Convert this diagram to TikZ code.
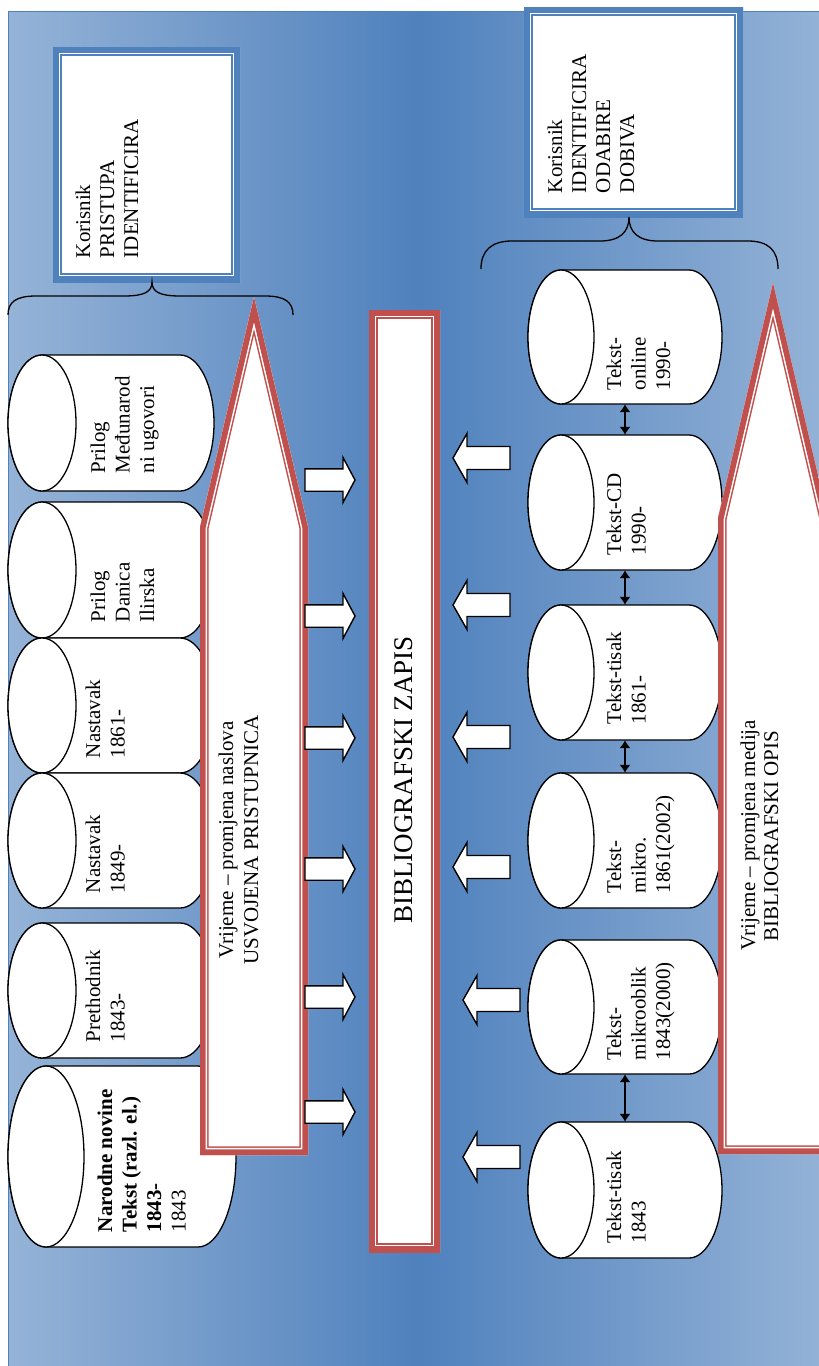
\documentclass[tikz,border=0pt]{standalone}
\usepackage{fontspec}
\setmainfont{Liberation Serif}
\usetikzlibrary{arrows.meta}
\definecolor{bgLight}{HTML}{95B3D7}
\definecolor{bgDark}{HTML}{4F81BD}
\definecolor{frameBlue}{HTML}{4F81BD}
\definecolor{frameRed}{HTML}{C0504D}

\newcommand\thickthin[2]{%
  \fill[white] #2;
  \begin{scope}
    \clip #2;
    \draw[#1, line width=17.4pt, line join=miter] #2;
    \draw[white, line width=14.4pt, line join=miter] #2;
    \draw[#1, line width=11.4pt, line join=miter] #2;
  \end{scope}}

\newcommand\can[6]{% name, x0, x1, ytop, ybot, rx
  \pgfmathsetmacro\canh{(#5-#4)/2}
  \pgfmathsetmacro\canyc{-(#5+#4)/2}
  \pgfmathsetmacro\canw{#3-#2}
  \pgfmathsetmacro\canhh{#5-#4}
  \pgfmathsetmacro\canxc{(#2+#3)/2}
  \filldraw[canline] (#2+#6,-#4) -- (#3-#6,-#4)
     arc[start angle=90,end angle=-90,x radius=#6,y radius=\canh]
     -- (#2+#6,-#5)
     arc[start angle=270,end angle=90,x radius=#6,y radius=\canh] -- cycle;
  \draw[canline] (#2+#6,\canyc) ellipse[x radius=#6, y radius=\canh];
  \node[inner sep=0pt, minimum width=\canw pt, minimum height=\canhh pt] (#1) at (\canxc,\canyc) {};
}

\newcommand\rarrow[1]{% right-pointing block arrow, centre y
  \draw[blockarrow] (305,-#1+11.2) -- (343,-#1+11.2) -- (343,-#1+22.5) -- (355,-#1)
     -- (343,-#1-22.5) -- (343,-#1-11.2) -- (305,-#1-11.2) -- cycle;}
\newcommand\larrow[2]{% left-pointing block arrow, tip x, centre y
  \draw[blockarrow] (#1,-#2) -- (#1+14,-#2+24.5) -- (#1+14,-#2+11.5) -- (#1+57,-#2+11.5)
     -- (#1+57,-#2-11.5) -- (#1+14,-#2-11.5) -- (#1+14,-#2-24.5) -- cycle;}

\newcommand\rtline[4]{\node[vt, anchor=base west] (#1) at (#2,-#3) {#4};}
\newcommand\rtcentre[4]{\node[vt, anchor=base] (#1) at (#2,-#3) {#4};}

\begin{document}
\begin{tikzpicture}[x=1pt,y=1pt,
  canline/.style={draw=black, fill=white, line width=1.3pt},
  blockarrow/.style={draw=black, fill=white, line width=1.4pt, line join=miter},
  vt/.style={rotate=90, inner sep=0pt, outer sep=0pt, font=\fontsize{21}{24.5}\selectfont},
  bigt/.style={rotate=90, inner sep=0pt, font=\fontsize{27}{30}\selectfont},
  bracestyle/.style={draw=black, line width=1.3pt},
  dbl/.style={line width=1.3pt, {Latex[length=8pt,width=11pt]}-{Latex[length=8pt,width=11pt]}}]

\useasboundingbox (0,0) rectangle (819,-1366);
\clip (0,0) rectangle (819,-1366);
\fill[white] (0,0) rectangle (819,-1366);

% background
\shade[left color=bgLight, right color=bgLight, middle color=bgDark] (8,-11) rectangle (830,-1375);
\draw[frameBlue, line width=1pt] (8,-1375) -- (8,-11) -- (830,-11);

% user boxes
\thickthin{frameBlue}{(53,-47) rectangle (240,-282)}
\thickthin{frameBlue}{(524,-7) rectangle (743,-217)}
\rtline{ka}{90}{258}{Korisnik}
\rtline{kb}{114}{258}{PRISTUPA}
\rtline{kc}{138}{258}{IDENTIFICIRA}
\rtline{kd}{562}{193}{Korisnik}
\rtline{ke}{586}{193}{IDENTIFICIRA}
\rtline{kf}{610}{193}{ODABIRE}
\rtline{kg}{634}{193}{DOBIVA}

% braces
\draw[bracestyle] (8,-315) .. controls (8,-302) and (16,-296) .. (36,-296) -- (124,-296)
  .. controls (144,-296) and (152,-292) .. (152,-282)
  .. controls (152,-292) and (160,-296) .. (180,-296) -- (265,-296)
  .. controls (285,-296) and (293,-302) .. (293,-315);
\draw[bracestyle] (481,-269) .. controls (481,-250) and (492,-241) .. (512,-241) -- (600,-241)
  .. controls (620,-241) and (629,-232) .. (629,-217)
  .. controls (629,-232) and (638,-241) .. (658,-241) -- (748,-241)
  .. controls (768,-241) and (778,-250) .. (778,-269);

% left cylinders
\can{c1}{8}{214}{355}{491}{34}
\can{c2}{8}{214}{502}{638}{34}
\can{c3}{8}{214}{638}{773}{34}
\can{c4}{8}{214}{773}{908}{34}
\can{c5}{8}{214}{923}{1058}{34}
\can{c6}{8}{236}{1066}{1247}{38}

% right cylinders
\can{r1}{528}{722}{270}{404}{33}
\can{r2}{528}{722}{435}{570}{33}
\can{r3}{528}{722}{605}{740}{33}
\can{r4}{528}{722}{773}{908}{33}
\can{r5}{528}{722}{940}{1074}{33}
\can{r6}{528}{722}{1122}{1258}{33}

% pentagons and central box
\thickthin{frameRed}{(200,-1155) -- (308,-1155) -- (308,-527) -- (254,-297) -- (200,-527) -- cycle}
\thickthin{frameRed}{(718,-1154) -- (828,-1154) -- (828,-518) -- (773,-283) -- (718,-518) -- cycle}
\thickthin{frameRed}{(369,-310) rectangle (440,-1252)}

% block arrows
\rarrow{480}
\rarrow{616}
\rarrow{738}
\rarrow{869}
\rarrow{997}
\rarrow{1112}
\larrow{453}{458}
\larrow{453}{605}
\larrow{453}{737}
\larrow{453}{867}
\larrow{463}{1000}
\larrow{463}{1157}

% double arrows
\draw[dbl] (r1.south) -- (r2.north);
\draw[dbl] (r2.south) -- (r3.north);
\draw[dbl] (r3.south) -- (r4.north);
\draw[dbl] (r5.south) -- (r6.north);

% left cylinder texts
\rtline{t1a}{105}{473}{Prilog}
\rtline{t1b}{129.5}{473}{Međunarod}
\rtline{t1c}{154}{473}{ni ugovori}
\rtline{t2a}{105}{622}{Prilog}
\rtline{t2b}{129.5}{622}{Danica}
\rtline{t2c}{154}{622}{Ilirska}
\rtline{t3a}{100}{758}{Nastavak}
\rtline{t3b}{124.5}{758}{1861-}
\rtline{t4a}{100}{893}{Nastavak}
\rtline{t4b}{124.5}{893}{1849-}
\rtline{t5a}{100}{1042}{Prethodnik}
\rtline{t5b}{124.5}{1042}{1843-}
\rtline{t6a}{112}{1232}{\bfseries Narodne novine}
\rtline{t6b}{136.5}{1232}{\bfseries Tekst (razl. el.)}
\rtline{t6c}{161}{1232}{\bfseries 1843-}
\rtline{t6d}{185.5}{1232}{1843}

% right cylinder texts
\rtline{s1a}{621}{390}{Tekst-}
\rtline{s1b}{645.5}{390}{online}
\rtline{s1c}{670}{390}{1990-}
\rtline{s2a}{621}{555}{Tekst-CD}
\rtline{s2b}{645.5}{555}{1990-}
\rtline{s3a}{621}{724}{Tekst-tisak}
\rtline{s3b}{645.5}{724}{1861-}
\rtline{s4a}{621}{893}{Tekst-}
\rtline{s4b}{645.5}{893}{mikro.}
\rtline{s4c}{670}{893}{1861(2002)}
\rtline{s5a}{621}{1060}{Tekst-}
\rtline{s5b}{645.5}{1060}{mikrooblik}
\rtline{s5c}{670}{1060}{1843(2000)}
\rtline{s6a}{621}{1243}{Tekst-tisak}
\rtline{s6b}{645.5}{1243}{1843}

% pentagon texts
\rtcentre{p1a}{233}{840}{Vrijeme – promjena naslova}
\rtcentre{p1b}{258}{840}{USVOJENA PRISTUPNICA}
\rtcentre{p2a}{755}{835}{Vrijeme – promjena medija}
\rtcentre{p2b}{778}{836}{BIBLIOGRAFSKI OPIS}

% central text
\node[bigt, anchor=base] (bz) at (412,-780) {BIBLIOGRAFSKI ZAPIS};
\end{tikzpicture}
\end{document}
